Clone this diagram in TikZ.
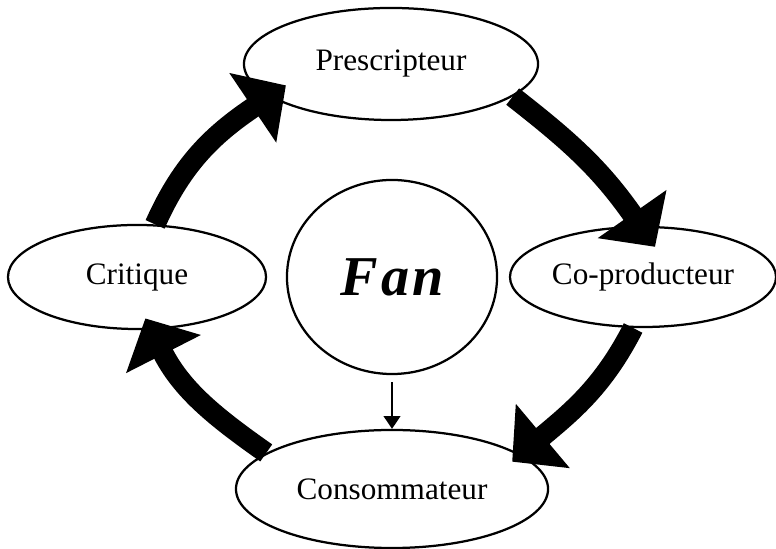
\documentclass[tikz,border=0pt]{standalone}
\usepackage{fontspec}
\setmainfont{Liberation Serif}
\usetikzlibrary{arrows.meta, shapes.geometric}

\begin{document}
\begin{tikzpicture}[x=0.0125cm, y=0.0125cm,
		role/.style={draw, ellipse, fill=white, line width=0.8pt, inner sep=0pt,
			font=\fontsize{11.1}{13}\selectfont},
		bigarrow/.style={line width=0.26cm, -{Triangle[width=1.02cm, length=0.5cm]}},
		thinarrow/.style={line width=0.5pt, -{Triangle[width=0.21cm, length=0.16cm]}}]
		\useasboundingbox (0,0) rectangle (776,549);
		%
		% the four roles round the fan
		\node[role, minimum width=3.675cm, minimum height=1.4cm] (pres) at (391,485) {Prescripteur};
		\node[role, minimum width=3.225cm, minimum height=1.3cm] (crit) at (137,272) {Critique};
		\node[role, minimum width=3.325cm, minimum height=1.25cm] (copro) at (643,272) {Co-producteur};
		\node[role, minimum width=3.9cm, minimum height=1.475cm] (cons) at (392,60) {Consommateur};
		\node[draw, ellipse, line width=0.8pt, minimum width=2.625cm, minimum height=2.425cm,
			font=\fontsize{20}{24}\selectfont\bfseries\itshape\addfontfeatures{LetterSpace=5}] (fan) at (392,272) {Fan};
		%
		%
		\draw[bigarrow, shorten >=-0.25cm] (crit.71) to[out=66, in=214] (pres.195);
		\draw[bigarrow, shorten >=-0.32cm] (pres.345) to[out=322, in=125] (copro.93);
		\draw[bigarrow, shorten >=-0.14cm] (copro.259) to[out=243, in=40] (cons.15);
		\draw[bigarrow, shorten >=-0.16cm] (cons.164) to[out=145, in=297] (crit.285);
		\draw[thinarrow, shorten <=0.09cm] (fan) -- (cons);
	\end{tikzpicture}
\end{document}
